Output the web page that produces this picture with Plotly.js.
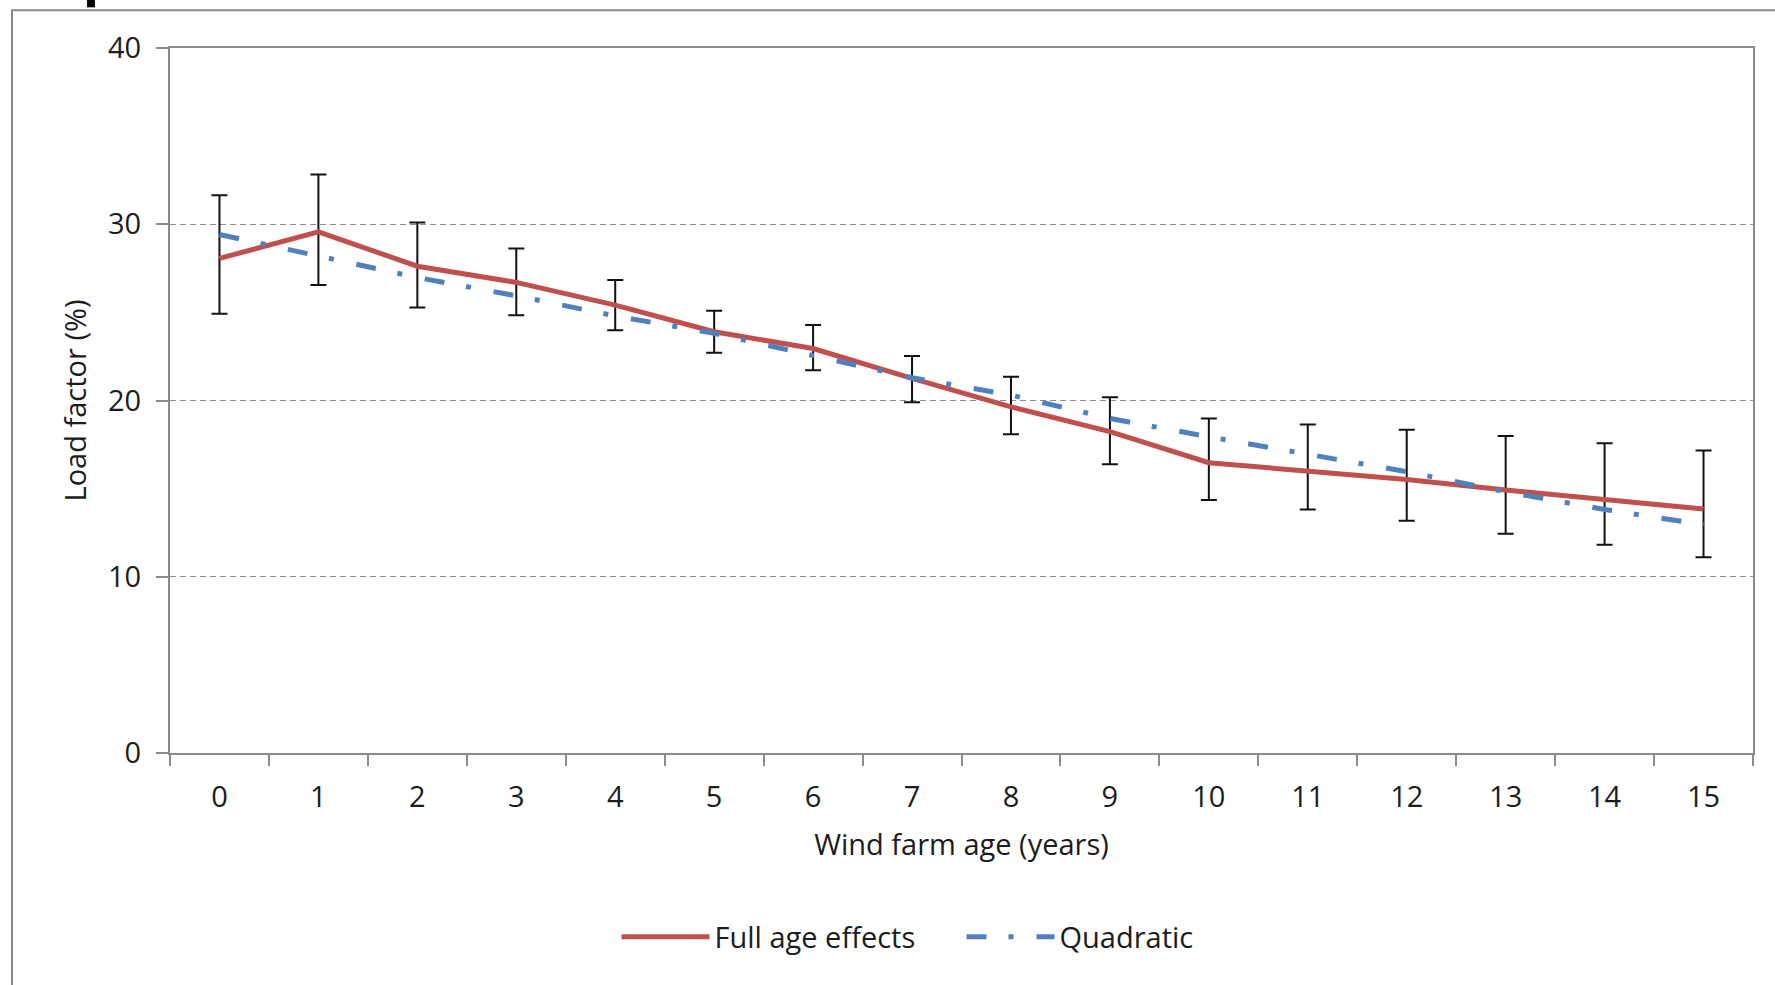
<!DOCTYPE html>
<html>
<head>
<meta charset="utf-8">
<script src="https://cdn.plot.ly/plotly-3.0.1.min.js"></script>
<style>html,body{margin:0;padding:0;background:#fff;}#chart{width:1775px;height:985px;}</style>
</head>
<body>
<div id="chart"></div>
<script>
// Wind farm age categories
var ages = ['0','1','2','3','4','5','6','7','8','9','10','11','12','13','14','15'];
// Full age effects (load factor %)
var fullAge = [28.06, 29.57, 27.62, 26.70, 25.41, 23.90, 22.95, 21.25, 19.64, 18.23, 16.47, 16.01, 15.52, 14.92, 14.41, 13.84];
// Upper and lower ends of the error bars
var ciUpper = [31.65, 32.82, 30.10, 28.62, 26.83, 25.09, 24.28, 22.52, 21.35, 20.18, 18.98, 18.64, 18.34, 17.98, 17.57, 17.17];
var ciLower = [24.92, 26.55, 25.28, 24.83, 23.99, 22.71, 21.72, 19.90, 18.09, 16.38, 14.35, 13.82, 13.18, 12.44, 11.82, 11.10];
// Quadratic fit
var quadratic = [29.42, 28.22, 26.98, 25.94, 24.80, 23.81, 22.57, 21.29, 20.31, 18.98, 17.94, 16.96, 15.96, 14.82, 13.82, 12.95];
var yTicks = [0, 10, 20, 30, 40];

var errPlus = fullAge.map(function(v, i){ return ciUpper[i] - v; });
var errMinus = fullAge.map(function(v, i){ return v - ciLower[i]; });

var FONT = 'Open Sans, Noto Sans, sans-serif';
var TXT = '#1c1c1c';
var AX = '#8a8a8a';

var traces = [
  {
    x: ages, y: fullAge, type: 'scatter', mode: 'lines', name: 'Full age effects',
    line: {color: '#C0504D', width: 5},
    error_y: {type: 'data', symmetric: false, array: errPlus, arrayminus: errMinus,
              color: '#111111', thickness: 2, width: 8}
  },
  {
    x: ages, y: quadratic, type: 'scatter', mode: 'lines', name: 'Quadratic',
    line: {color: '#4F81BD', width: 5, dash: '20px,22px,5px,23px'}
  }
];

var layout = {
  width: 1775, height: 985,
  margin: {l: 170, r: 22, t: 48, b: 232, pad: 0},
  paper_bgcolor: '#ffffff', plot_bgcolor: '#ffffff',
  font: {family: FONT, size: 29, color: TXT},
  showlegend: true,
  legend: {orientation: 'h', x: 0.5, xanchor: 'center', y: -0.261, yanchor: 'middle',
           font: {family: FONT, size: 29, color: TXT}, bgcolor: 'rgba(0,0,0,0)',
           itemwidth: 88, entrywidth: 242, entrywidthmode: 'pixels'},
  xaxis: {
    type: 'category', range: [-0.5, 15.5], tickson: 'boundaries', ticks: 'outside', ticklen: 11, tickwidth: 2, tickcolor: AX,
    showline: true, linecolor: AX, linewidth: 2, mirror: true, showgrid: false, zeroline: false,
    tickfont: {family: FONT, size: 29, color: TXT}, ticklabelstandoff: 17,
    title: {text: 'Wind farm age (years)', font: {family: FONT, size: 29, color: TXT}, standoff: 21},
    automargin: false, fixedrange: true
  },
  yaxis: {
    range: [0, 40], tickvals: yTicks, ticks: 'outside', ticklen: 12, tickwidth: 2, tickcolor: AX,
    showline: true, linecolor: AX, linewidth: 2, mirror: true,
    showgrid: true, gridcolor: '#8f8f8f', gridwidth: 1.3, griddash: '6px,4px', zeroline: false,
    tickfont: {family: FONT, size: 29, color: TXT}, ticklabelstandoff: 9,
    title: {text: 'Load factor (%)', font: {family: FONT, size: 29, color: TXT}, standoff: 13},
    automargin: false, fixedrange: true
  },
  shapes: [
    {type: 'rect', xref: 'paper', yref: 'paper', x0: -0.0998, x1: 1.2, y0: -0.5, y1: 1.0534,
     line: {color: '#8a8a8a', width: 2}, fillcolor: 'rgba(0,0,0,0)', layer: 'below'},
    {type: 'rect', xref: 'paper', yref: 'paper', x0: -0.0524, x1: -0.0474, y0: 1.0577, y1: 1.08,
     line: {width: 0}, fillcolor: '#000000'}
  ]
};

Plotly.newPlot('chart', traces, layout, {displayModeBar: false, responsive: false, staticPlot: true});
</script>
</body>
</html>
